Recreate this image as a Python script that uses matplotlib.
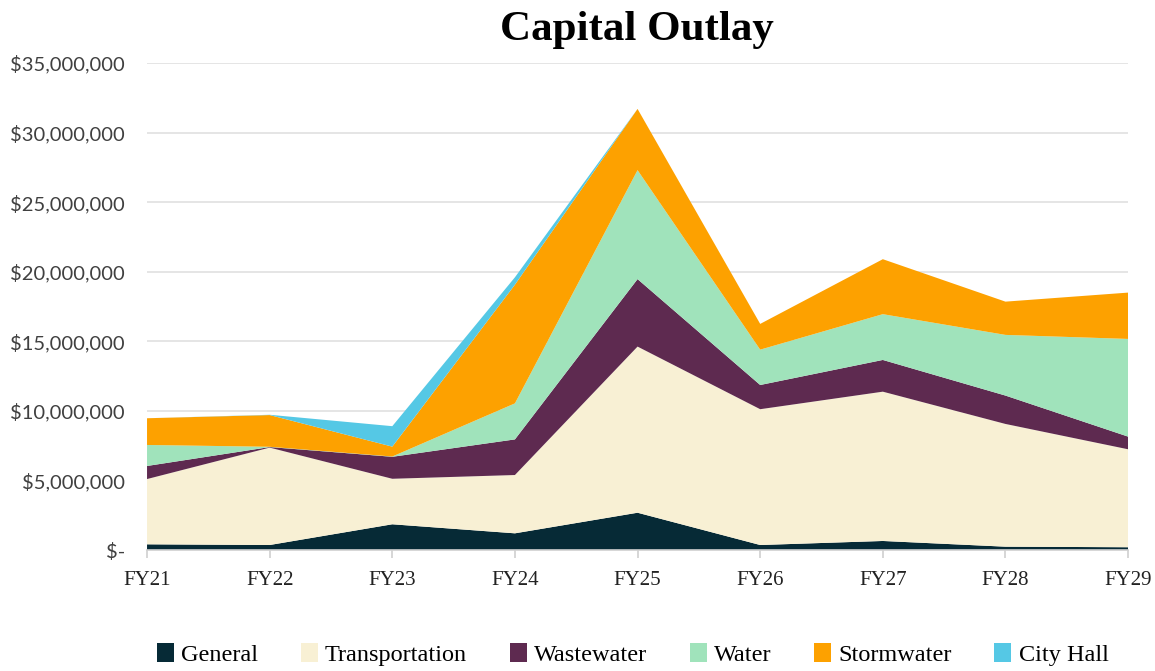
import matplotlib.pyplot as plt
from matplotlib.ticker import FuncFormatter

# Data (millions of dollars)
years = ['FY21', 'FY22', 'FY23', 'FY24', 'FY25', 'FY26', 'FY27', 'FY28', 'FY29']
general = [0.41, 0.36, 1.85, 1.20, 2.68, 0.36, 0.65, 0.24, 0.20]
transportation = [4.69, 7.00, 3.27, 4.19, 11.94, 9.76, 10.73, 8.82, 7.04]
wastewater = [0.94, 0.04, 1.58, 2.56, 4.85, 1.74, 2.28, 2.04, 0.91]
water = [1.51, 0.02, 0.02, 2.59, 7.83, 2.54, 3.29, 4.36, 7.02]
stormwater = [1.92, 2.28, 0.71, 8.53, 4.40, 1.85, 3.95, 2.39, 3.33]
city_hall = [0.0, 0.02, 1.47, 0.53, 0.0, 0.0, 0.0, 0.0, 0.0]

labels = ['General', 'Transportation', 'Wastewater', 'Water', 'Stormwater', 'City Hall']
colors = ['#062a36', '#f8f0d4', '#5e2a50', '#a0e3bb', '#fda100', '#55c8e5']

series = [general, transportation, wastewater, water, stormwater, city_hall]
series = [[v * 1e6 for v in s] for s in series]

fig = plt.figure(figsize=(11.55, 6.71), dpi=100)
ax = fig.add_axes([0.1273, 0.1803, 0.8494, 0.7258])

x = list(range(len(years)))
ax.stackplot(x, *series, labels=labels, colors=colors, linewidth=0)

ax.set_xlim(0, len(years) - 1)
ax.set_ylim(0, 35e6)
ax.set_yticks([i * 5e6 for i in range(8)])
ax.yaxis.set_major_formatter(FuncFormatter(lambda v, p: '$-' if v == 0 else f'${v:,.0f}'))
ax.set_xticks(x)
ax.set_xticklabels(years, family='Liberation Serif', fontsize=15)

ax.grid(axis='y', color='#e0e0e0', linewidth=1.2)
ax.set_axisbelow(True)
for s in ['left', 'right', 'top']:
    ax.spines[s].set_visible(False)
ax.spines['bottom'].set_color('#d0d0d0')
ax.spines['bottom'].set_linewidth(1.2)
ax.spines['bottom'].set_zorder(3)
ax.tick_params(axis='y', length=0, labelsize=14.5, labelcolor='#404040', pad=16)
ax.tick_params(axis='x', length=6, color='#d0d0d0', width=1.2, labelcolor='#222222', pad=9)
for lbl in ax.get_yticklabels():
    lbl.set_family('Lato')

fig.text(0.5515, 0.956, 'Capital Outlay', ha='center', va='center',
         family='Liberation Serif', fontweight='bold', fontsize=31)

ax.legend(loc='center', bbox_to_anchor=(0.495, -0.215), ncol=6, frameon=False,
          prop={'family': 'Liberation Serif', 'size': 17.5},
          handlelength=0.7, handleheight=0.8, handletextpad=0.3, columnspacing=1.75)

plt.savefig('out.png', dpi=100)
